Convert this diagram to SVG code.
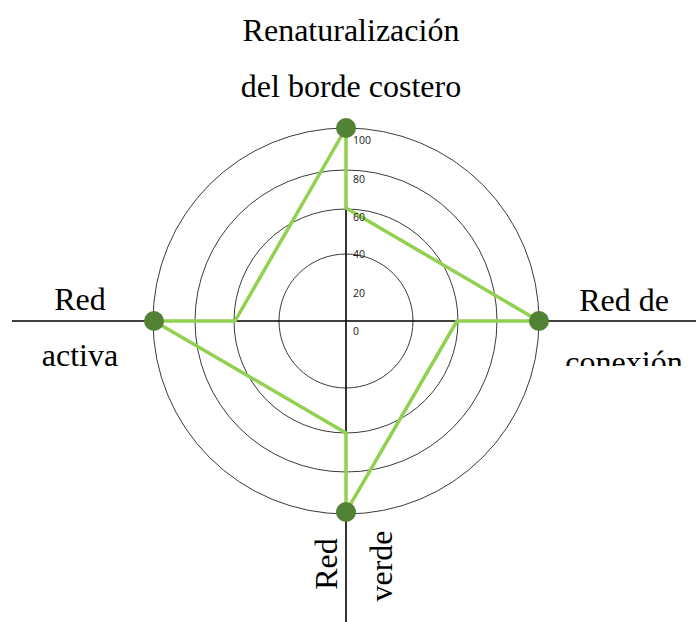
<svg xmlns="http://www.w3.org/2000/svg" width="696" height="622" viewBox="0 0 696 622">
<style>
.ring{fill:none;stroke:#3a3a3a;stroke-width:1}
.axis{stroke:#000;stroke-width:1.6;fill:none}
.series{fill:none;stroke:#92d050;stroke-width:3.5;stroke-linejoin:round}
.dot{fill:#548235}
.lbl{font-family:"Liberation Serif","Times New Roman",serif;font-size:32px;fill:#000;text-anchor:middle}
.tick{font-family:"Open Sans","Liberation Sans",sans-serif;font-size:10.5px;fill:#1a1a1a}
</style>
<defs>
<clipPath id="clipR"><rect x="540" y="330" width="156" height="36"/></clipPath>
</defs>
<rect width="696" height="622" fill="#fff"/>
<g id="grid">
<circle class="ring" cx="346" cy="321" r="67"/>
<circle class="ring" cx="346" cy="321" r="112"/>
<circle class="ring" cx="346" cy="321" r="151"/>
<circle class="ring" cx="346" cy="321" r="193"/>
</g>
<g id="connectors">
<line class="axis" x1="12" y1="321" x2="696" y2="321"/>
<line class="axis" x1="346" y1="128" x2="346" y2="622"/>
<path class="series" d="M346,128 L346,208 L539,321 L457,321 L346,512 L346,433 L154,321 L235,321 Z"/>
</g>
<g id="ticks">
<text class="tick" x="353" y="144">100</text>
<text class="tick" x="353" y="183">80</text>
<text class="tick" x="353" y="221">60</text>
<text class="tick" x="353" y="258">40</text>
<text class="tick" x="353" y="297">20</text>
<text class="tick" x="353" y="335">0</text>
</g>
<g id="node-top">
<circle class="dot" cx="346" cy="128" r="10"/>
<text class="lbl" x="351" y="41">Renaturalización</text>
<text class="lbl" x="351" y="97">del borde costero</text>
</g>
<g id="node-right">
<circle class="dot" cx="539" cy="321" r="10"/>
<text class="lbl" x="624" y="311">Red de</text>
<text class="lbl" x="624" y="373" clip-path="url(#clipR)">conexión</text>
</g>
<g id="node-bottom">
<circle class="dot" cx="346" cy="512" r="10"/>
<text class="lbl" transform="translate(337,564) rotate(-90)">Red</text>
<text class="lbl" transform="translate(392,566) rotate(-90)">verde</text>
</g>
<g id="node-left">
<circle class="dot" cx="154" cy="321" r="10"/>
<text class="lbl" x="80" y="310">Red</text>
<text class="lbl" x="80" y="366">activa</text>
</g>
</svg>
